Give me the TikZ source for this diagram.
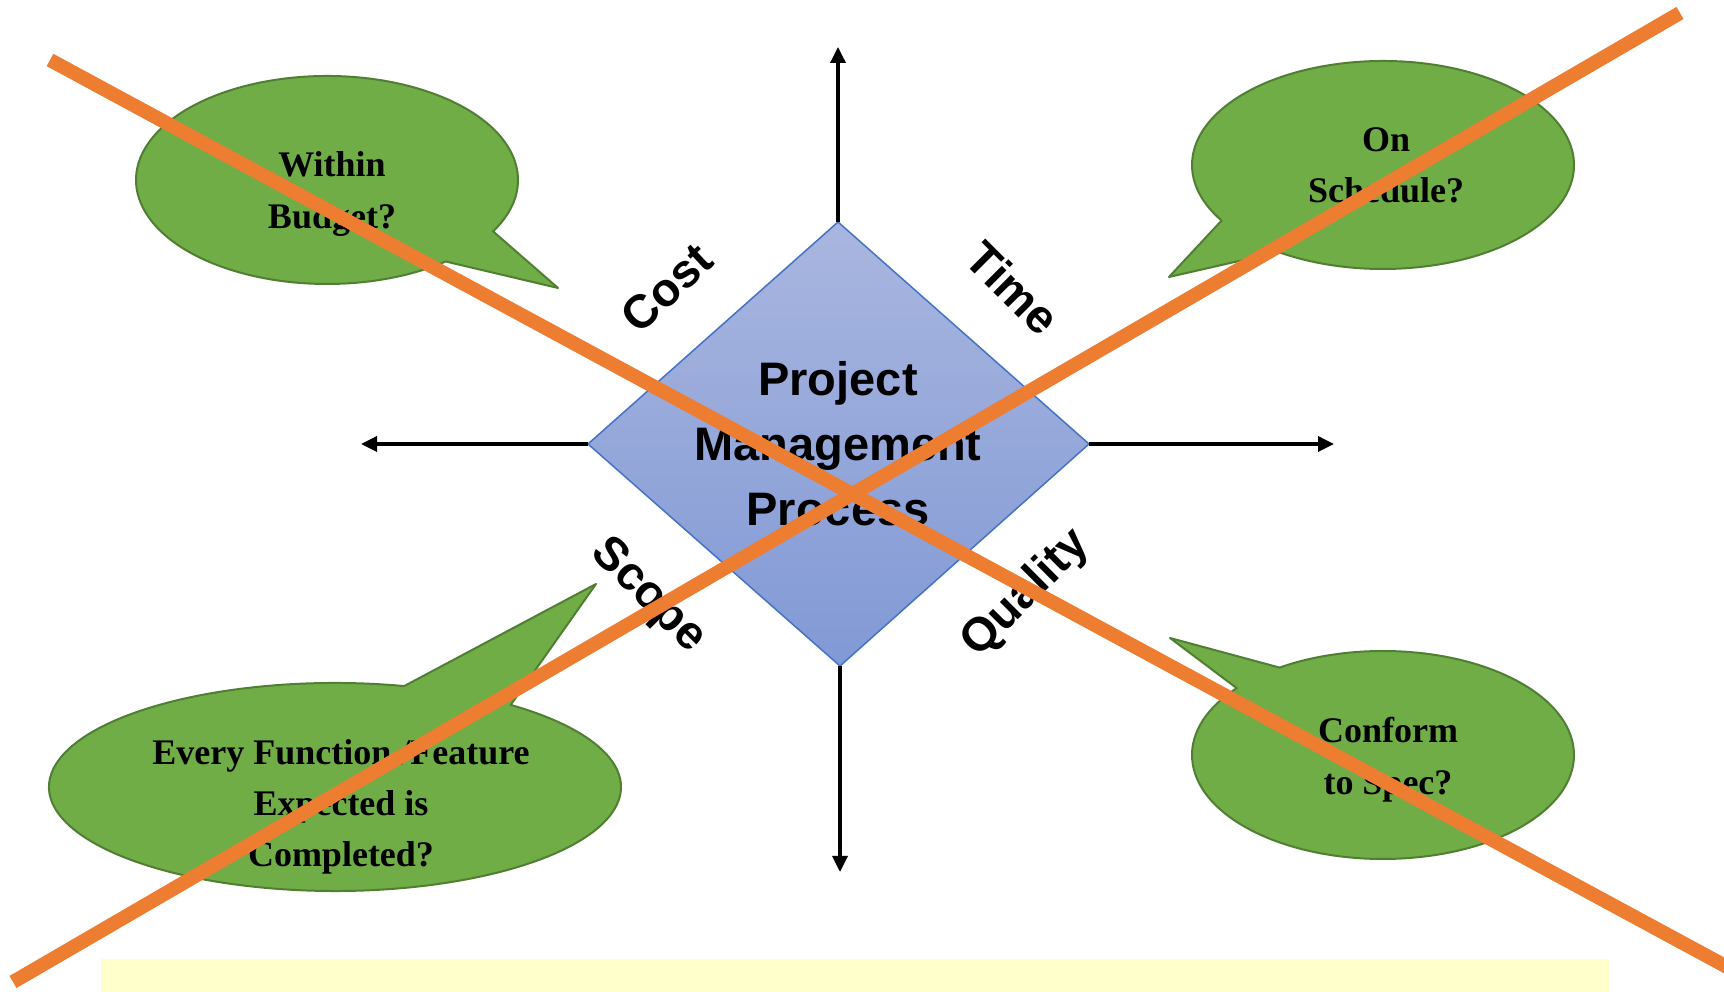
\documentclass[tikz,border=0pt]{standalone}
\usepackage{fontspec}
\setmainfont{Liberation Serif}
\setsansfont{Liberation Sans}
\usetikzlibrary{arrows.meta,calc}
\definecolor{bubble}{HTML}{70AD47}
\definecolor{bubbleedge}{HTML}{507E32}
\definecolor{cross}{HTML}{ED7D31}
\definecolor{diatop}{HTML}{A9B6DF}
\definecolor{diabot}{HTML}{8199D5}
\definecolor{diaedge}{HTML}{4472C4}
\definecolor{note}{HTML}{FFFFCC}
\begin{document}
\begin{tikzpicture}[x=1pt,y=1pt,
  bubbleshape/.style={fill=bubble,draw=bubbleedge,line width=2pt,line join=round},
  bubbletext/.style={font=\fontsize{36}{52}\selectfont\bfseries,align=center,text=black,inner sep=0pt},
  axislabel/.style={font=\fontsize{47}{47}\selectfont\sffamily\bfseries,inner sep=0pt},
  axisarrow/.style={line width=3.4pt,-{Triangle[length=16pt,width=15pt]}},
  crossline/.style={draw=cross,line width=14pt}]
\useasboundingbox (0,0) rectangle (1724,992);
\fill[white] (0,0) rectangle (1724,992);

% note strip at the bottom
\fill[note] (101,0) rectangle (1609,33);

% callouts
\path[bubbleshape] (558,704) -- ($(327,812)+(-29.6:191 and 104)$)
  arc[start angle=-29.6,end angle=308.4,x radius=191,y radius=104] -- cycle;
\path[bubbleshape] (1169,715) -- ($(1383,827)+(236.8:191 and 104)$)
  arc[start angle=236.8,end angle=572.3,x radius=191,y radius=104] -- cycle;
\path[bubbleshape] (596,408) -- ($(335,205)+(76:286 and 104)$)
  arc[start angle=76,end angle=412.1,x radius=286,y radius=104] -- cycle;
\path[bubbleshape] (1170,354) -- ($(1383,237)+(140:191 and 104)$)
  arc[start angle=140,end angle=482.8,x radius=191,y radius=104] -- cycle;

\node[bubbletext] (budget) at (332,798) {Within\\Budget?};
\node[bubbletext,font=\fontsize{36}{51}\selectfont\bfseries] (schedule) at (1386,827) {On\\Schedule?};
\node[bubbletext,font=\fontsize{36}{51}\selectfont\bfseries] (feature) at (341,185) {Every Function /Feature\\Expected is\\Completed?};
\node[bubbletext] (spec) at (1388,232) {Conform\\to Spec?};

% diamond
\coordinate (dT) at (838,770);
\coordinate (dB) at (840,326);
\coordinate (dL) at (588,548);
\coordinate (dR) at (1089,548);
\coordinate (aT) at (838,945);
\coordinate (aB) at (840,120);
\coordinate (aL) at (361,548);
\coordinate (aR) at (1334,548);
\shade[top color=diatop,bottom color=diabot] (dT) -- (dR) -- (dB) -- (dL) -- cycle;
\draw[diaedge,line width=1.5pt,line join=miter] (dT) -- (dR) -- (dB) -- (dL) -- cycle;

\draw[axisarrow] (dT) -- (aT);
\draw[axisarrow] (dB) -- (aB);
\draw[axisarrow] (dL) -- (aL);
\draw[axisarrow] (dR) -- (aR);

\node[font=\fontsize{47}{65}\selectfont\sffamily\bfseries,align=center,inner sep=0pt] (pm) at (838,548) {Project\\Management\\Process};

\node[axislabel,rotate=43] (cost) at (667,704) {Cost};
\node[axislabel,rotate=-45] (time) at (1013,704) {Time};
\node[axislabel,rotate=-45] (scope) at (648,396) {Scope};
\node[axislabel,rotate=45] (quality) at (1026,398) {Quality};

% crossing-out lines
\begin{scope}
\clip (0,0) rectangle (1724,992);
\coordinate (xas) at (50,932);
\coordinate (xae) at (1790,-9);
\coordinate (xbs) at (13,10);
\coordinate (xbe) at (1680,979);
\draw[crossline] (xas) -- (xae);
\draw[crossline] (xbs) -- (xbe);
\end{scope}
\end{tikzpicture}
\end{document}
